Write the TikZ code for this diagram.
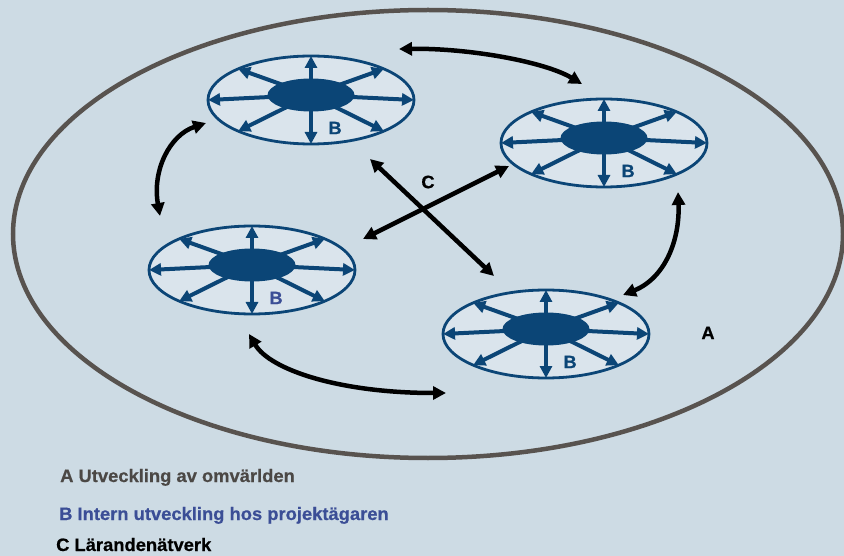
\documentclass[tikz,border=0pt]{standalone}
\usepackage{fontspec}
\setmainfont{Liberation Sans}
\newfontfamily\labfont{Liberation Sans}[FakeStretch=1.02, BoldFeatures={FakeBold=0.6}]
\usetikzlibrary{arrows.meta,shapes.geometric}
\definecolor{bg}{HTML}{CDDBE4}
\definecolor{hubfill}{HTML}{DAE4EC}
\definecolor{hubblue}{HTML}{0B4576}
\definecolor{ring}{HTML}{58534F}
\definecolor{legA}{HTML}{4B4845}
\definecolor{legB}{HTML}{3B4E96}
\tikzset{
 hubout/.style={ellipse, draw=hubblue, fill=hubfill, line width=2.8pt, minimum width=206pt, minimum height=88pt, inner sep=0pt},
 hubin/.style={ellipse, fill=hubblue, minimum width=87pt, minimum height=33pt, inner sep=0pt},
 hubarrow/.style={draw=hubblue, line width=4pt, -{Triangle[length=12pt,width=12pt]}},
 lab/.style={font=\labfont\bfseries\fontsize{18}{21}\selectfont, inner sep=0pt},
 link/.style={draw=black, line width=4.5pt, {Triangle[length=13pt,width=13pt]}-{Triangle[length=13pt,width=13pt]}},
 world/.style={ellipse, draw=ring, line width=4.5pt, minimum width=830pt, minimum height=448pt, inner sep=0pt},
 pics/hub/.style={code={
   \node[hubout] (-outer) at (0,0) {};
   \coordinate (-c) at (0,-5);
   \foreach \a in {0,45,...,315} \draw[hubarrow] (-c) -- ({103*cos(\a)},{44*sin(\a)});
   \node[hubin] (-inner) at (-c) {};
   \node[lab, text=#1] (-b) at (24,28) {B};
 }},
}
\begin{document}
\begin{tikzpicture}[x=1pt,y=-1pt]
\fill[bg] (0,0) rectangle (844,556);
\useasboundingbox (0,0) rectangle (844,556);
\node[world] (outerworld) at (428,234) {};
\pic (h1) at (311,100) {hub=hubblue};
\pic (h2) at (604,143) {hub=hubblue};
\pic (h3) at (252,270) {hub=legB};
\pic (h4) at (546,334) {hub=hubblue};
% connectors
\coordinate (t1) at (399,49);  \coordinate (t2) at (582,84);
\coordinate (l1) at (206,123); \coordinate (l2) at (160,216);
\coordinate (r1) at (678,192); \coordinate (r2) at (623,295);
\coordinate (b1) at (249,334); \coordinate (b2) at (446,393);
\coordinate (x1) at (370,159); \coordinate (x2) at (494,276);
\coordinate (y1) at (363,239); \coordinate (y2) at (509,166);
\draw[link] (t1) .. controls (470,48) and (545,62) .. (t2);
\draw[link] (l1) .. controls (170,135) and (152,170) .. (l2);
\draw[link] (r1) .. controls (680,240) and (665,278) .. (r2);
\draw[link] (b1) .. controls (270,370) and (340,393) .. (b2);
\draw[link] (x1) -- (x2);
\draw[link] (y1) -- (y2);
\node[lab] (labC) at (428,182) {C};
\node[lab] (labA) at (708,333) {A};
% legend
\node[lab, text=legA, anchor=base west] (legendA) at (60,482) {A Utveckling av omvärlden};
\node[lab, text=legB, anchor=base west] (legendB) at (59,520) {B Intern utveckling hos projektägaren};
\node[lab, text=black, anchor=base west] (legendC) at (56,551) {C Lärandenätverk};
\end{tikzpicture}
\end{document}
